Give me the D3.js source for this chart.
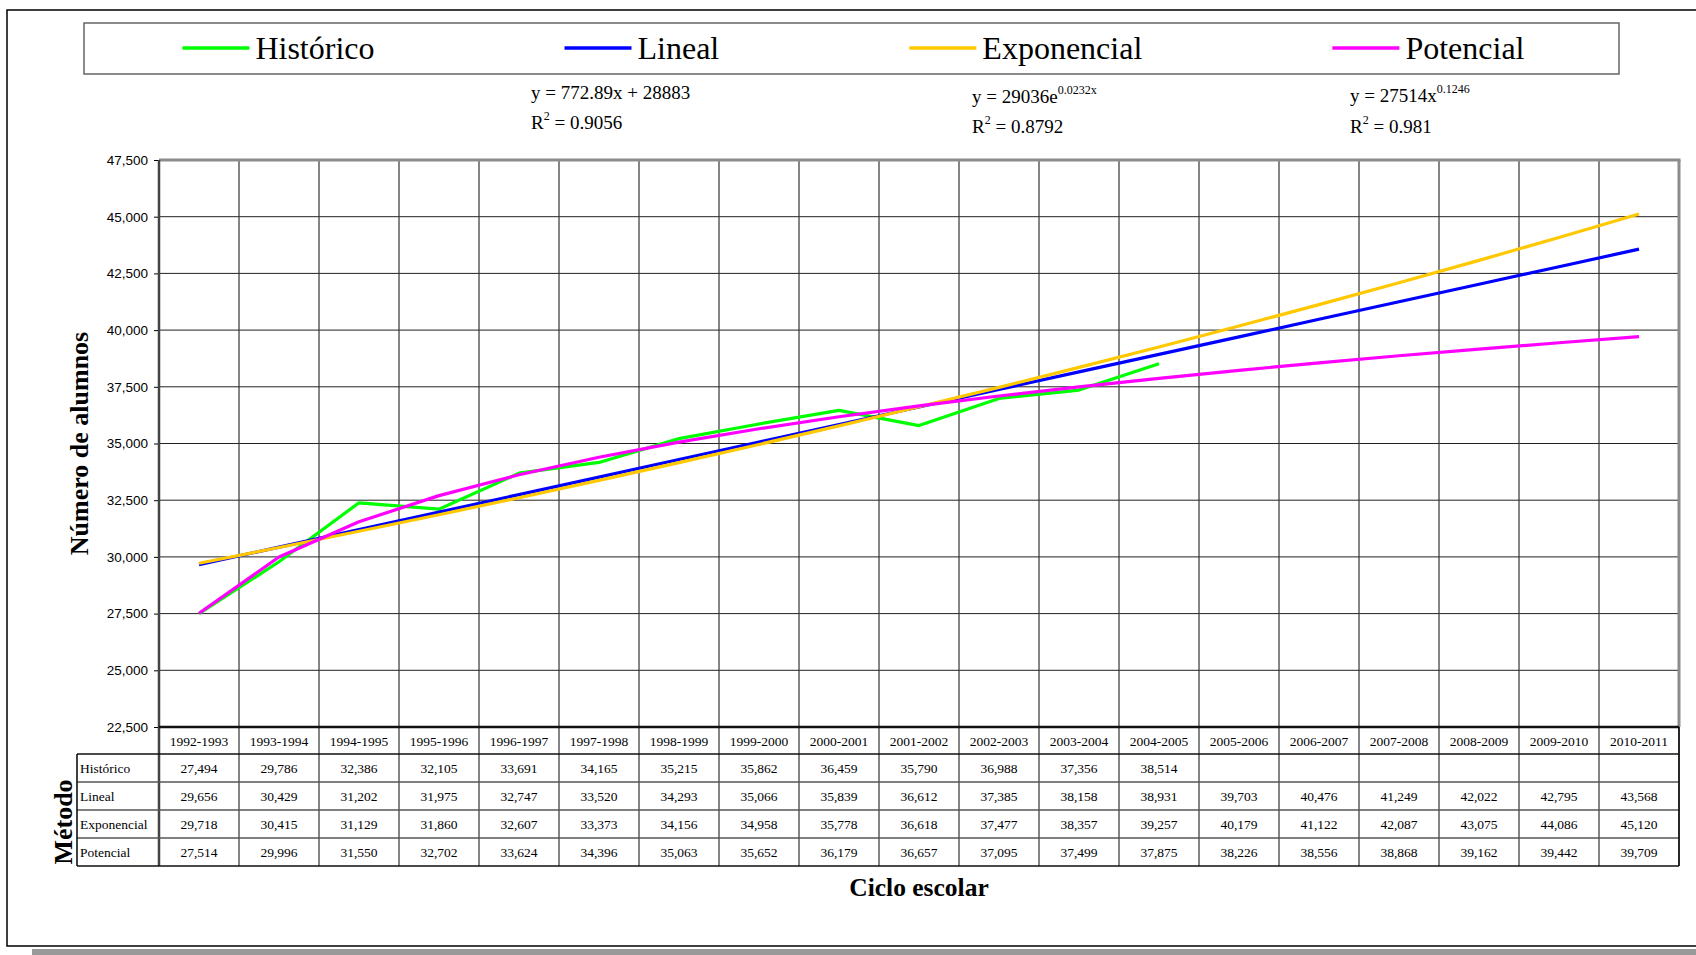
<!DOCTYPE html>
<html>
<head>
<meta charset="utf-8">
<script src="https://cdn.jsdelivr.net/npm/d3@7"></script>
<style>
  body { margin: 0; background: #fff; }
  text { fill: #000; }
</style>
</head>
<body>
<div id="chart"></div>
<script>

// datos
const ciclos = ["1992-1993", "1993-1994", "1994-1995", "1995-1996", "1996-1997", "1997-1998",
  "1998-1999", "1999-2000", "2000-2001", "2001-2002", "2002-2003", "2003-2004", "2004-2005",
  "2005-2006", "2006-2007", "2007-2008", "2008-2009", "2009-2010", "2010-2011"];

const historico = [27494, 29786, 32386, 32105, 33691, 34165, 35215, 35862, 36459, 35790, 36988, 37356, 38514];
const lineal = [29656, 30429, 31202, 31975, 32747, 33520, 34293, 35066, 35839, 36612, 37385, 38158, 38931,
  39703, 40476, 41249, 42022, 42795, 43568];
const exponencial = [29718, 30415, 31129, 31860, 32607, 33373, 34156, 34958, 35778, 36618, 37477, 38357, 39257,
  40179, 41122, 42087, 43075, 44086, 45120];
const potencial = [27514, 29996, 31550, 32702, 33624, 34396, 35063, 35652, 36179, 36657, 37095, 37499, 37875,
  38226, 38556, 38868, 39162, 39442, 39709];

const yTicks = [22500, 25000, 27500, 30000, 32500, 35000, 37500, 40000, 42500, 45000, 47500];

const metodos = ["Histórico", "Lineal", "Exponencial", "Potencial"];
const colores = ["#00ff00", "#0000ff", "#ffc800", "#ff00ff"];

const ecuaciones = [
  { base: "y = 772.89x + 28883", sup: "", r2: "0.9056" },
  { base: "y = 29036e", sup: "0.0232x", r2: "0.8792" },
  { base: "y = 27514x", sup: "0.1246", r2: "0.981" }
];

const seriesData = [historico, lineal, exponencial, potencial];

// layout
const W = 1696, H = 955;
const plot = { left: 159, right: 1679, top: 160, bottom: 727 };
const headerH = 27, rowH = 28, labelLeft = 77;
const serif = "'Liberation Serif', 'Times New Roman', serif";
const sans = "'Liberation Sans', Arial, sans-serif";
// posiciones de las etiquetas de tendencia
const eqPos = [[531, 99, 129], [972, 103, 133], [1350, 102, 133]];

const svg = d3.select("#chart").append("svg")
  .attr("width", W).attr("height", H);

// marco exterior y sombra
svg.append("rect").attr("x", 32).attr("y", 949).attr("width", W - 32).attr("height", 6).attr("fill", "#999");
svg.append("rect").attr("x", 7).attr("y", 10).attr("width", W + 20).attr("height", 936)
  .attr("fill", "none").attr("stroke", "#000").attr("stroke-width", 1.5);

let x = d3.scaleBand().domain(ciclos).range([plot.left, plot.right]);
let y = d3.scaleLinear().domain([22500, 47500]).range([plot.bottom, plot.top]);

// cuadricula
svg.append("g").selectAll("line.h").data(yTicks).enter().append("line")
  .attr("x1", plot.left).attr("x2", plot.right)
  .attr("y1", d => y(d)).attr("y2", d => y(d))
  .attr("stroke", "#222").attr("stroke-width", 1);

let bounds = ciclos.map(c => x(c)).concat([plot.right]);
svg.append("g").selectAll("line").data(bounds).enter().append("line")
  .attr("x1", d => d).attr("x2", d => d)
  .attr("y1", plot.top).attr("y2", plot.bottom + headerH + rowH * 4)
  .attr("stroke", "#333").attr("stroke-width", 1.2);

// borde del area
svg.append("line").attr("x1", plot.left).attr("x2", plot.right + 1.5)
  .attr("y1", plot.top).attr("y2", plot.top).attr("stroke", "#8c8c8c").attr("stroke-width", 3);
svg.append("line").attr("x1", plot.right).attr("x2", plot.right)
  .attr("y1", plot.top).attr("y2", plot.bottom).attr("stroke", "#8c8c8c").attr("stroke-width", 3);

// eje Y
let yAxis = svg.append("g")
  .attr("transform", "translate(" + plot.left + ",0)")
  .call(d3.axisLeft(y).tickValues(yTicks).tickSize(5).tickPadding(6).tickFormat(d3.format(",")));
yAxis.select(".domain").remove();
yAxis.selectAll("line").attr("stroke", "#000");
yAxis.selectAll("text").style("font-family", sans).style("font-size", "13.5px").attr("fill", "#000");
svg.append("line").attr("x1", plot.left).attr("x2", plot.left)
  .attr("y1", plot.top).attr("y2", plot.bottom + headerH + rowH * 4)
  .attr("stroke", "#444").attr("stroke-width", 2.5);

// lineas
let line = d3.line()
  .x((d, i) => x(ciclos[i]) + x.bandwidth() / 2)
  .y(d => y(d));

svg.append("g").selectAll("path").data(seriesData).enter().append("path")
  .attr("d", d => line(d))
  .attr("fill", "none")
  .attr("stroke", (d, i) => colores[i])
  .attr("stroke-width", 3.2)
  .attr("stroke-linejoin", "round");

// tabla de datos
let tableTop = plot.bottom, tableBottom = plot.bottom + headerH + rowH * 4;
svg.append("line").attr("x1", plot.left).attr("x2", plot.right)
  .attr("y1", plot.bottom).attr("y2", plot.bottom).attr("stroke", "#111").attr("stroke-width", 2.5);

for (let r = 0; r <= 4; r++) {
  let yy = tableTop + headerH + r * rowH;
  svg.append("line").attr("x1", labelLeft).attr("x2", plot.right)
    .attr("y1", yy).attr("y2", yy)
    .attr("stroke", r === 0 || r === 4 ? "#111" : "#555").attr("stroke-width", 1.6);
}
svg.append("line").attr("x1", labelLeft).attr("x2", labelLeft)
  .attr("y1", tableTop + headerH).attr("y2", tableBottom).attr("stroke", "#111").attr("stroke-width", 1.6);
svg.append("line").attr("x1", plot.right).attr("x2", plot.right)
  .attr("y1", plot.bottom).attr("y2", tableBottom).attr("stroke", "#111").attr("stroke-width", 1.6);

svg.append("g").selectAll("text").data(ciclos).enter().append("text")
  .attr("x", d => x(d) + x.bandwidth() / 2)
  .attr("y", tableTop + 19)
  .attr("text-anchor", "middle")
  .style("font-family", serif).style("font-size", "13.5px")
  .text(d => d);

metodos.forEach(function (m, r) {
  let base = tableTop + headerH + r * rowH + 19;
  svg.append("text").attr("x", labelLeft + 3).attr("y", base)
    .style("font-family", serif).style("font-size", "13.5px").text(m);
  svg.append("g").selectAll("text").data(seriesData[r]).enter().append("text")
    .attr("x", (d, i) => x(ciclos[i]) + x.bandwidth() / 2)
    .attr("y", base)
    .attr("text-anchor", "middle")
    .style("font-family", serif).style("font-size", "13.5px")
    .text(d => d3.format(",")(d));
});

// titulos
svg.append("text")
  .attr("transform", "translate(88," + ((plot.top + plot.bottom) / 2) + ") rotate(-90)")
  .attr("text-anchor", "middle")
  .style("font-family", serif).style("font-size", "26px").style("font-weight", "bold")
  .text("Número de alumnos");

svg.append("text")
  .attr("transform", "translate(72,822) rotate(-90)")
  .attr("text-anchor", "middle")
  .style("font-family", serif).style("font-size", "26px").style("font-weight", "bold")
  .text("Método");

svg.append("text")
  .attr("x", (plot.left + plot.right) / 2).attr("y", 896)
  .attr("text-anchor", "middle")
  .style("font-family", serif).style("font-size", "25.5px").style("font-weight", "bold")
  .text("Ciclo escolar");

// leyenda
const legBox = { x: 84, y: 23, w: 1535, h: 51 };
svg.append("rect").attr("x", legBox.x).attr("y", legBox.y).attr("width", legBox.w).attr("height", legBox.h)
  .attr("fill", "#fff").attr("stroke", "#666").attr("stroke-width", 1.5);

let items = svg.append("g").selectAll("g").data(metodos).enter().append("g");
items.append("line").attr("x1", 0).attr("x2", 67).attr("y1", 48).attr("y2", 48)
  .attr("stroke", (d, i) => colores[i]).attr("stroke-width", 3.5);
items.append("text").attr("x", 73).attr("y", 59)
  .style("font-family", serif).style("font-size", "32px")
  .text(d => d);

let widths = [];
items.each(function () { widths.push(this.getBBox().width); });
let gap = 190;
let startX = legBox.x + (legBox.w - d3.sum(widths) - gap * (metodos.length - 1)) / 2 + 2;
let acc = startX;
items.attr("transform", function (d, i) {
  let t = "translate(" + acc + ",0)";
  acc += widths[i] + gap;
  return t;
});

// ecuaciones de tendencia
ecuaciones.forEach(function (e, i) {
  let p = eqPos[i];
  let t1 = svg.append("text").attr("x", p[0]).attr("y", p[1])
    .style("font-family", serif).style("font-size", "19px");
  t1.append("tspan").text(e.base);
  if (e.sup) t1.append("tspan").attr("dy", -9).style("font-size", "12px").text(e.sup);
  let t2 = svg.append("text").attr("x", p[0]).attr("y", p[2])
    .style("font-family", serif).style("font-size", "19px");
  t2.append("tspan").text("R");
  t2.append("tspan").attr("dy", -9).style("font-size", "12px").text("2");
  t2.append("tspan").attr("dy", 9).text(" = " + e.r2);
});

</script>
</body>
</html>
